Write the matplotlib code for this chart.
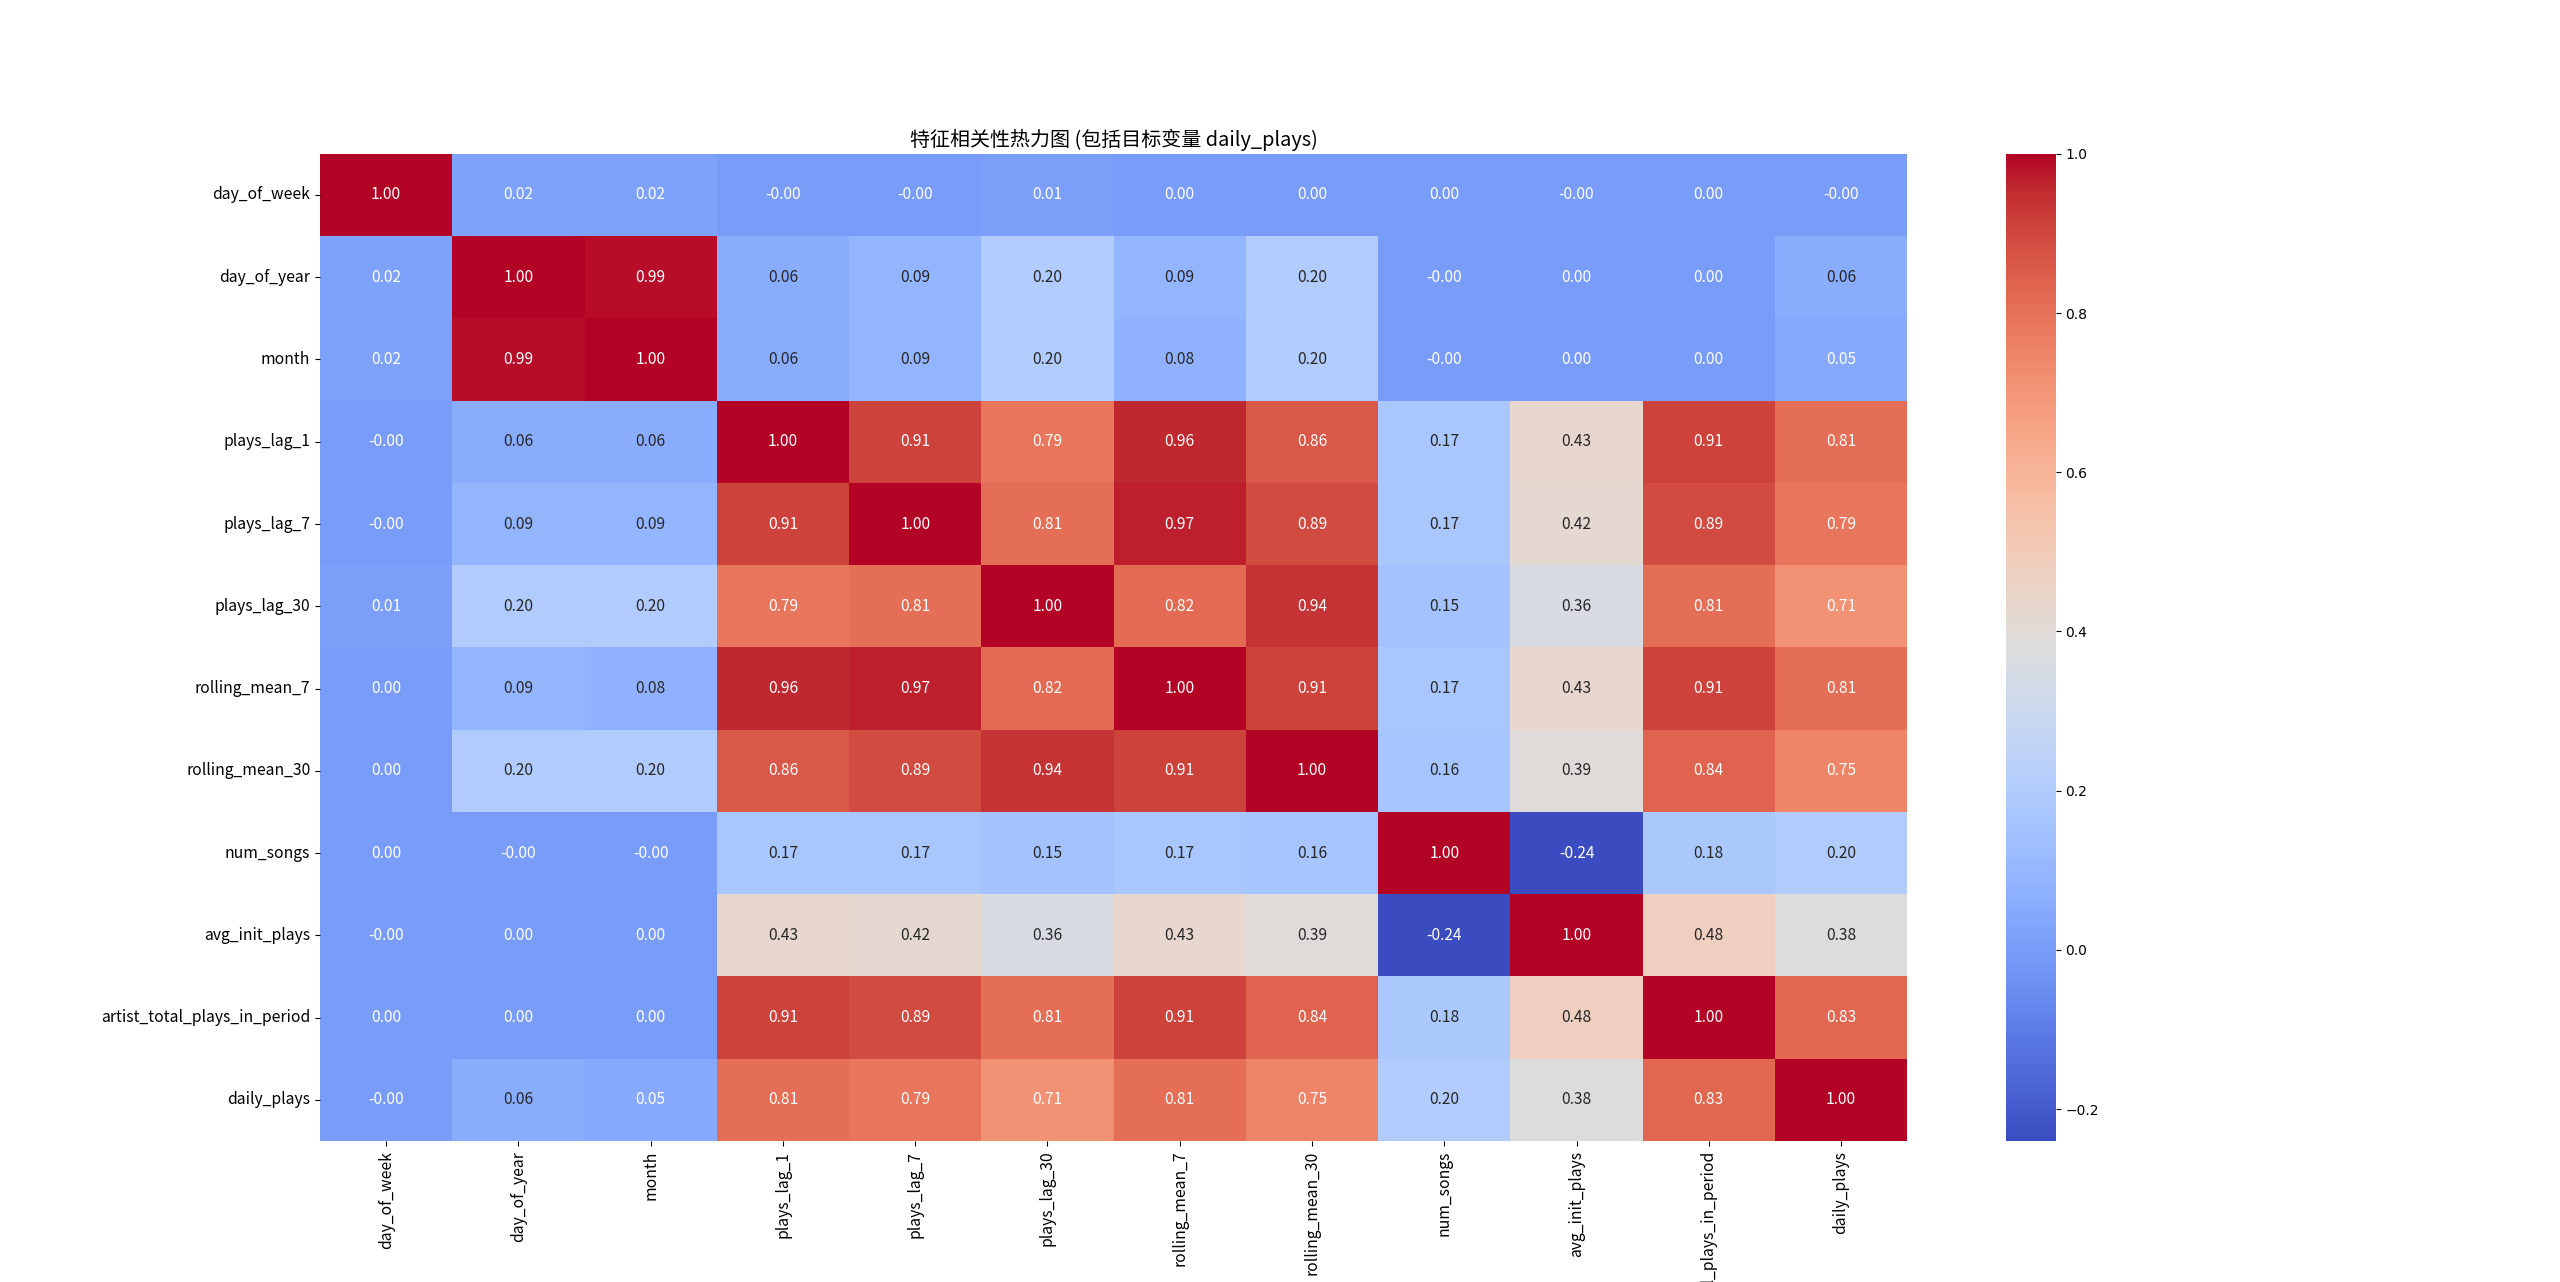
import numpy as np
import pandas as pd
import matplotlib
matplotlib.use("Agg")
import matplotlib.pyplot as plt
import seaborn as sns

# 中文字体
plt.rcParams['font.family'] = ['Noto Sans CJK SC', 'DejaVu Sans']

features = ["day_of_week", "day_of_year", "month", "plays_lag_1", "plays_lag_7",
            "plays_lag_30", "rolling_mean_7", "rolling_mean_30", "num_songs",
            "avg_init_plays", "artist_total_plays_in_period", "daily_plays"]

# -0.001 表示图中显示为 -0.00 的值
row_day_of_week = [1.00, 0.02, 0.02, -0.001, -0.001, 0.01, 0.00, 0.00, 0.00, -0.001, 0.00, -0.001]
row_day_of_year = [0.02, 1.00, 0.99, 0.06, 0.09, 0.20, 0.09, 0.20, -0.001, 0.00, 0.00, 0.06]
row_month = [0.02, 0.99, 1.00, 0.06, 0.09, 0.20, 0.08, 0.20, -0.001, 0.00, 0.00, 0.05]
row_plays_lag_1 = [-0.001, 0.06, 0.06, 1.00, 0.91, 0.79, 0.96, 0.86, 0.17, 0.43, 0.91, 0.81]
row_plays_lag_7 = [-0.001, 0.09, 0.09, 0.91, 1.00, 0.81, 0.97, 0.89, 0.17, 0.42, 0.89, 0.79]
row_plays_lag_30 = [0.01, 0.20, 0.20, 0.79, 0.81, 1.00, 0.82, 0.94, 0.15, 0.36, 0.81, 0.71]
row_rolling_mean_7 = [0.00, 0.09, 0.08, 0.96, 0.97, 0.82, 1.00, 0.91, 0.17, 0.43, 0.91, 0.81]
row_rolling_mean_30 = [0.00, 0.20, 0.20, 0.86, 0.89, 0.94, 0.91, 1.00, 0.16, 0.39, 0.84, 0.75]
row_num_songs = [0.00, -0.001, -0.001, 0.17, 0.17, 0.15, 0.17, 0.16, 1.00, -0.24, 0.18, 0.20]
row_avg_init_plays = [-0.001, 0.00, 0.00, 0.43, 0.42, 0.36, 0.43, 0.39, -0.24, 1.00, 0.48, 0.38]
row_artist_total = [0.00, 0.00, 0.00, 0.91, 0.89, 0.81, 0.91, 0.84, 0.18, 0.48, 1.00, 0.83]
row_daily_plays = [-0.001, 0.06, 0.05, 0.81, 0.79, 0.71, 0.81, 0.75, 0.20, 0.38, 0.83, 1.00]

corr = pd.DataFrame([row_day_of_week, row_day_of_year, row_month, row_plays_lag_1,
                     row_plays_lag_7, row_plays_lag_30, row_rolling_mean_7,
                     row_rolling_mean_30, row_num_songs, row_avg_init_plays,
                     row_artist_total, row_daily_plays],
                    index=features, columns=features)

fig = plt.figure(figsize=(25.6, 12.82), dpi=100)
ax = sns.heatmap(corr, annot=True, fmt=".2f", cmap="coolwarm",
                 annot_kws={"fontsize": 11.2})
ax.set_title("特征相关性热力图 (包括目标变量 daily_plays)", fontsize=14.4)
ax.tick_params(axis="both", labelsize=11.3)

# 色条刻度用 DejaVu Sans
cbar = ax.collections[0].colorbar
for lab in cbar.ax.get_yticklabels():
    lab.set_fontfamily("DejaVu Sans")
    lab.set_fontsize(10)

plt.savefig("out.png", dpi=100)
